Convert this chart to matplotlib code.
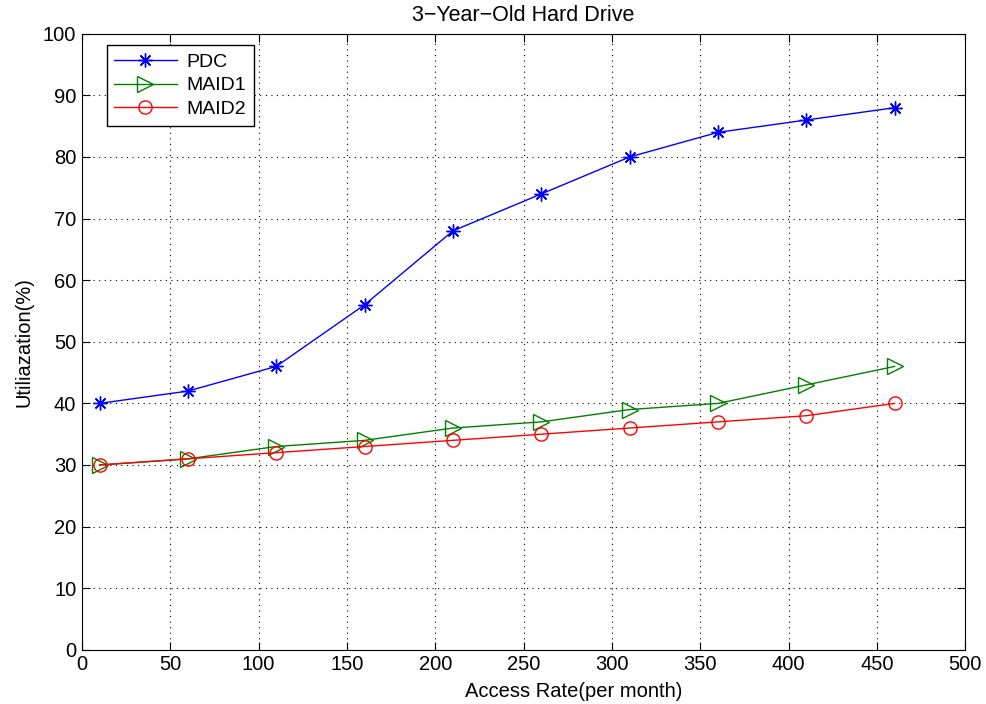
import numpy as np
import matplotlib
matplotlib.use("Agg")
import matplotlib.pyplot as plt

plt.rcParams['font.family'] = ['Liberation Sans', 'DejaVu Sans']

access_rate = [10, 60, 110, 160, 210, 260, 310, 360, 410, 460]
pdc = [40, 42, 46, 56, 68, 74, 80, 84, 86, 88]
maid1 = [30, 31, 33, 34, 36, 37, 39, 40, 43, 46]
maid2 = [30, 31, 32, 33, 34, 35, 36, 37, 38, 40]

fig = plt.figure(figsize=(9.86, 7.04), dpi=100)
ax = fig.add_axes([0.083, 0.077, 0.896, 0.875])

# matlab-ish asterisk, + and x together
ax.plot(access_rate, pdc, color="blue", marker=(8, 2, 0), markersize=10, linewidth=1.0,
        markeredgewidth=1.0, label="PDC")
ax.plot(access_rate, maid1, color="green", marker=">", markersize=11, linewidth=1.0,
        markerfacecolor="none", markeredgewidth=1.0, label="MAID1")
ax.plot(access_rate, maid2, color="red", marker="o", markersize=9.5, linewidth=1.0,
        markerfacecolor="none", markeredgewidth=1.0, label="MAID2")

ax.set_xlim(0, 500)
ax.set_ylim(0, 100)
ax.set_xticks(np.arange(0, 501, 50))
ax.set_yticks(np.arange(0, 101, 10))
ax.tick_params(direction="in", top=True, right=True, labelsize=14.5, length=6, pad=4)
ax.grid(True, linestyle=(0, (1, 4)), color="black", linewidth=0.8)

ax.set_title("3\u2212Year\u2212Old Hard Drive", fontsize=15.5, pad=9)
ax.set_xlabel("Access Rate(per month)", fontsize=14.5)
ax.xaxis.set_label_coords(0.557, -0.052)
ax.set_ylabel("Utiliazation(%)", fontsize=14.5, labelpad=7)

leg = ax.legend(loc="upper left", bbox_to_anchor=(0.028, 0.981), borderaxespad=0,
                fontsize=14, fancybox=False, edgecolor="black", framealpha=1,
                handlelength=3.2, borderpad=0.4, labelspacing=0.3, handletextpad=0.5)
leg.get_frame().set_linewidth(1.0)

fig.savefig("out.png", dpi=100)
